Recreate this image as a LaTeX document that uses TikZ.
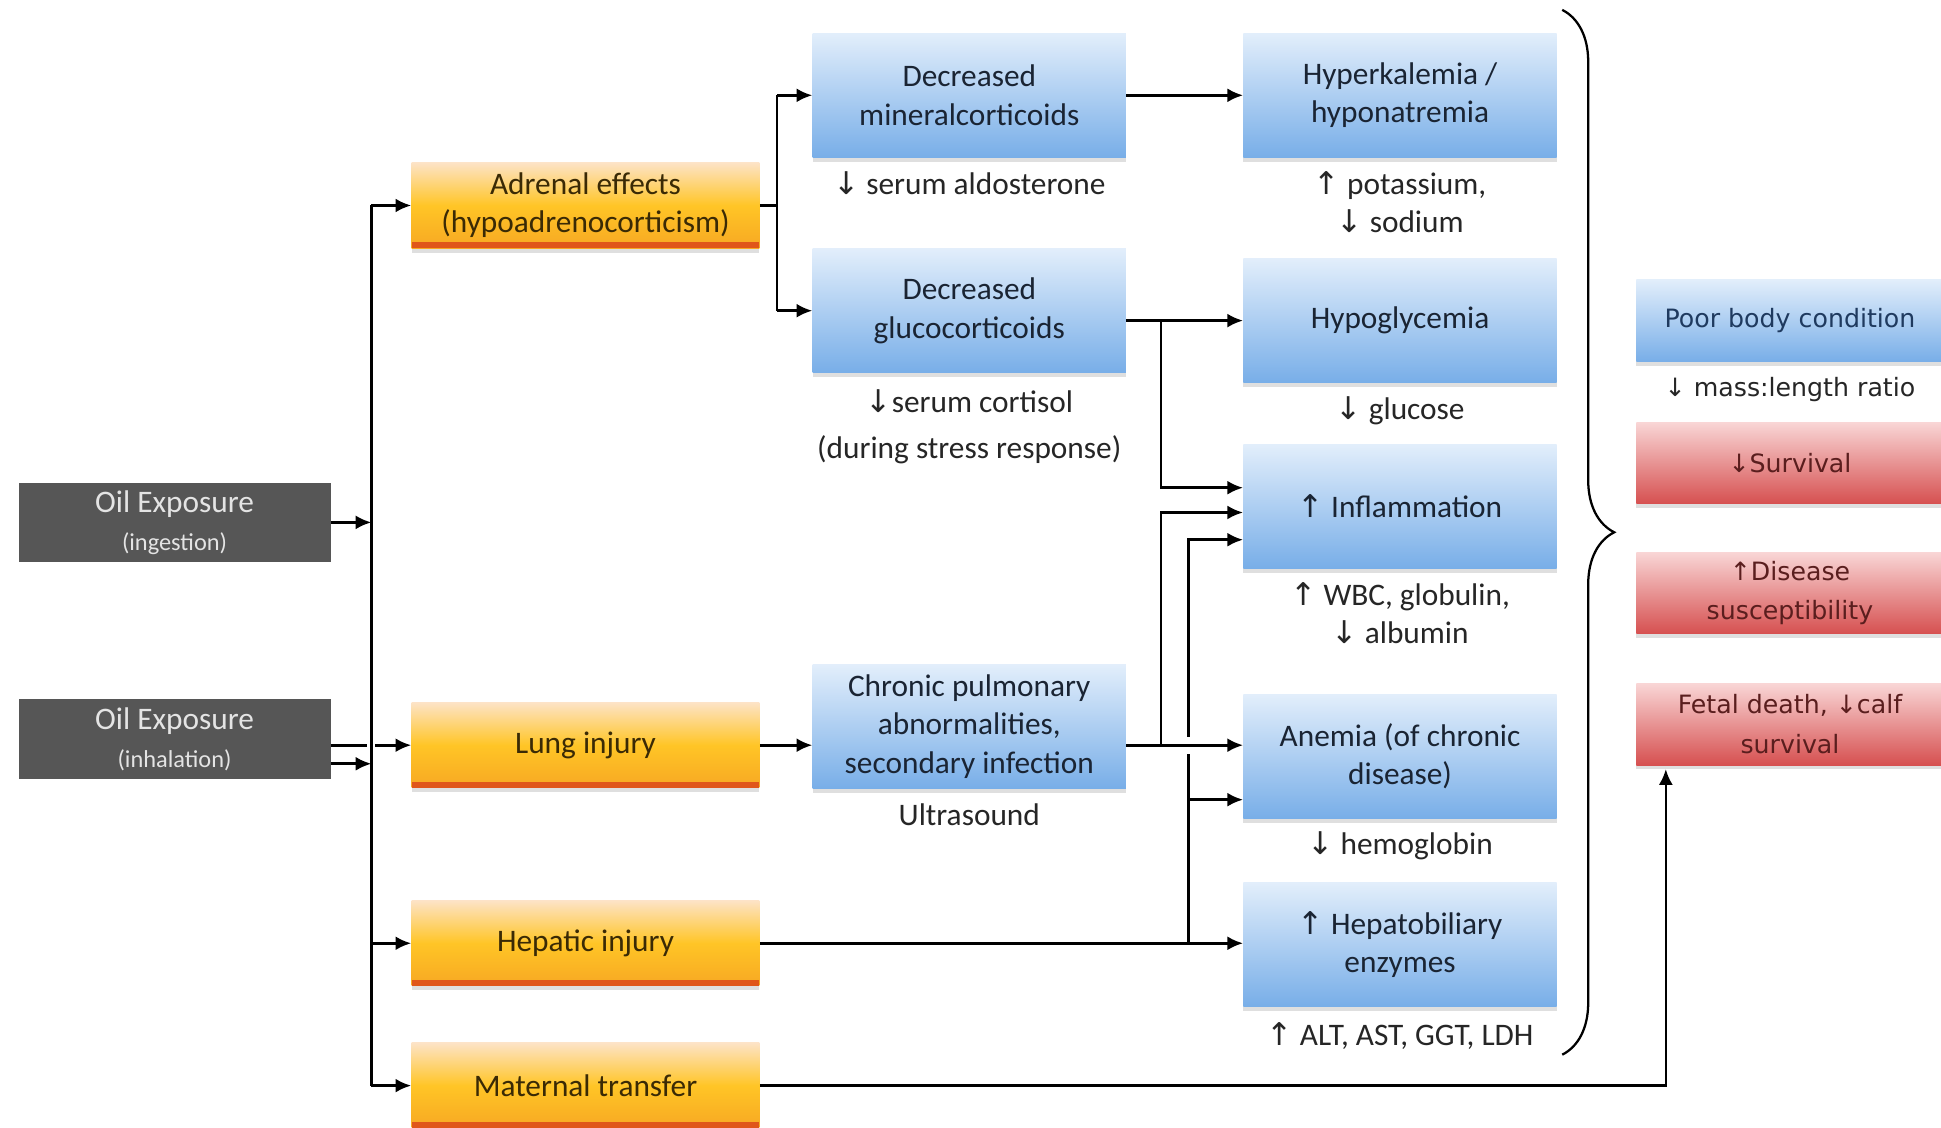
\documentclass[tikz,border=0pt]{standalone}
\usepackage{fontspec}
\setmainfont{Carlito}
\newfontfamily\arrowfont{DejaVu Sans}
\newfontfamily\verdfont{DejaVu Sans}
\usetikzlibrary{positioning,arrows.meta,shadows,decorations.pathreplacing}

\definecolor{oilgrey}{HTML}{565656}
\definecolor{oiltext}{HTML}{E4E4E4}
\definecolor{bluetop}{HTML}{E2EEFB}
\definecolor{bluebot}{HTML}{78AEE8}
\definecolor{bluetext}{HTML}{1A2433}
\definecolor{ortop}{HTML}{FDE3C6}
\definecolor{ormid}{HTML}{FFC526}
\definecolor{orbot}{HTML}{F7A823}
\definecolor{oredge}{HTML}{E0561A}
\definecolor{ortext}{HTML}{3A2A05}
\definecolor{redtop}{HTML}{F9D6D6}
\definecolor{redbot}{HTML}{D65050}
\definecolor{redtext}{HTML}{5A1E1E}
\definecolor{navytext}{HTML}{1F3A5F}

\newcommand{\upa}{{\arrowfont ↑}}
\newcommand{\dna}{{\arrowfont ↓}}

\begin{document}
\begin{tikzpicture}[x=0.025cm, y=-0.025cm,
	font=\fontsize{18}{22}\selectfont,
	shbox/.style={rectangle, align=center, inner sep=2pt, drop shadow={opacity=0.25, shadow xshift=0pt, shadow yshift=-2.5pt}},
	oilbox/.style={rectangle, align=center, fill=oilgrey, text=oiltext, minimum width=6.3cm, minimum height=1.6cm},
	effbox/.style={shbox, text=ortext, minimum width=7.025cm, minimum height=1.725cm, top color=ortop, bottom color=orbot, middle color=ormid,
		path picture={\fill[oredge] (path picture bounding box.south west) rectangle ([yshift=3.5pt]path picture bounding box.south east);}},
	bluebox/.style={shbox, text=bluetext, minimum width=6.325cm, minimum height=2.5cm, top color=bluetop, bottom color=bluebot},
	outbox/.style={shbox, font=\verdfont\fontsize{14.5}{22.5}\selectfont, minimum width=6.2cm, minimum height=1.65cm},
	redbox/.style={outbox, text=redtext, top color=redtop, bottom color=redbot},
	lbl/.style={inner sep=0pt, align=center, text=black!85},
	wire/.style={line width=1.5pt},
	wirearr/.style={wire, -{Latex[length=9pt,width=8pt]}},
	bigbrace/.style={line width=1.3pt, decorate, decoration={brace, amplitude=1.05cm}}]
	\path[use as bounding box, fill=white] (0,0) rectangle (1568,911);

	% exposure routes
	\node[oilbox] (ing) at (141,422) {Oil Exposure\\{\fontsize{14}{19}\selectfont(ingestion)}};
	\node[oilbox] (inh) at (141,597) {Oil Exposure\\{\fontsize{14}{19}\selectfont(inhalation)}};

	% primary effects
	\node[effbox] (adr) at (473,166) {Adrenal effects\\(hypoadrenocorticism)};
	\node[effbox] (lung) at (473,602) {Lung injury};
	\node[effbox] (hep) at (473,762) {Hepatic injury};
	\node[effbox] (mat) at (473,877) {Maternal transfer};

	% secondary effects
	\node[bluebox] (mine) at (783,77) {Decreased\\mineralcorticoids};
	\node[bluebox] (gluc) at (783,251) {Decreased\\glucocorticoids};
	\node[bluebox] (pulm) at (783,587) {Chronic pulmonary\\abnormalities,\\secondary infection};

	\node[bluebox] (hyk) at (1131,77) {Hyperkalemia /\\hyponatremia};
	\node[bluebox] (hgly) at (1131,259) {Hypoglycemia};
	\node[bluebox] (infl) at (1131,409) {\upa{} Inflammation};
	\node[bluebox] (anem) at (1131,611) {Anemia (of chronic\\disease)};
	\node[bluebox] (hbe) at (1131,763) {\upa{} Hepatobiliary\\enzymes};

	% outcomes
	\node[outbox, text=navytext, top color=bluetop, bottom color=bluebot] (poor) at (1446,259) {Poor body condition};
	\node[redbox] (surv) at (1446,374) {\dna Survival};
	\node[redbox] (dis) at (1446,479) {\upa Disease\\susceptibility};
	\node[redbox] (fet) at (1446,585) {Fetal death, \dna calf\\survival};

	% measured values
	\node[lbl, below=0.27cm of mine] (mineL) {\dna{} serum aldosterone};
	\node[lbl, below=0.27cm of hyk] (hykL) {\upa{} potassium,\\\dna{} sodium};
	\node[lbl, below=0.34cm of gluc] (glucL) {\dna serum cortisol\\[4pt](during stress response)};
	\node[lbl, below=0.27cm of hgly] (hglyL) {\dna{} glucose};
	\node[lbl, below=0.27cm of infl] (inflL) {\upa{} WBC, globulin,\\\dna{} albumin};
	\node[lbl, below=0.3cm of pulm] (pulmL) {Ultrasound};
	\node[lbl, below=0.25cm of anem] (anemL) {\dna{} hemoglobin};
	\node[lbl, below=0.32cm of hbe] (hbeL) {\upa{} ALT, AST, GGT, LDH};
	\node[lbl, font=\verdfont\fontsize{14.5}{18}\selectfont, below=0.3cm of poor] (poorL) {\dna{} mass:length ratio};

	\coordinate (busT) at (300,166);
	\coordinate (busB) at (300,877);
	\coordinate (jA) at (938,0);
	\coordinate (jB) at (960,0);
	\coordinate (brT) at (1262,8);
	\coordinate (brB) at (1262,852);

	% bus to primary effects
	\draw[wire] (busT) -- (busB);
	\draw[wirearr] (ing.east) -- (ing.east -| busT);
	\draw[wirearr] ([yshift=-0.5cm]inh.east) -- ([yshift=-0.5cm]inh.east -| busT);
	\draw[wire] (inh.east |- lung.west) -- ([xshift=-0.08cm]busT |- lung.west);
	\draw[wirearr] ([xshift=0.08cm]busT |- lung.west) -- (lung.west);
	\draw[wirearr] (busT) -- (adr.west);
	\draw[wirearr] (busT |- hep.west) -- (hep.west);
	\draw[wirearr] (busB) -- (mat.west);

	% adrenal split
	\draw[wire] (adr.east) -- ++(14,0) coordinate (adrK);
	\draw[wire] (adrK |- mine.west) -- (adrK |- gluc.west);
	\draw[wirearr] (adrK |- mine.west) -- (mine.west);
	\draw[wirearr] (adrK |- gluc.west) -- (gluc.west);

	\draw[wirearr] (mine) -- (hyk);
	\draw[wirearr] (gluc.east |- hgly.west) -- (hgly.west);
	\draw[wirearr] (jA |- hgly.west) |- ([yshift=0.375cm]infl.west);
	\draw[wirearr] (lung.east) -- (lung.east -| pulm.west);
	\draw[wirearr] (lung.east -| pulm.east) -- (lung.east -| anem.west);
	\draw[wirearr] (jA |- lung.east) |- ([yshift=-0.125cm]infl.west);
	\draw[wirearr] (hep.east) -- (hep.east -| hbe.west);
	\draw[wire] (jB |- hep.east) -- ([yshift=-0.175cm]jB |- lung.east);
	\draw[wirearr] ([yshift=0.175cm]jB |- lung.east) |- ([yshift=-0.675cm]infl.west);
	\draw[wirearr] ([yshift=-0.875cm]anem.west -| jB) -- ([yshift=-0.875cm]anem.west);
	\draw[wirearr] (mat.east) -| ([xshift=0.6cm,yshift=-0.075cm]fet.south west);

	\draw[bigbrace] (brT) -- (brB);
\end{tikzpicture}
\end{document}
